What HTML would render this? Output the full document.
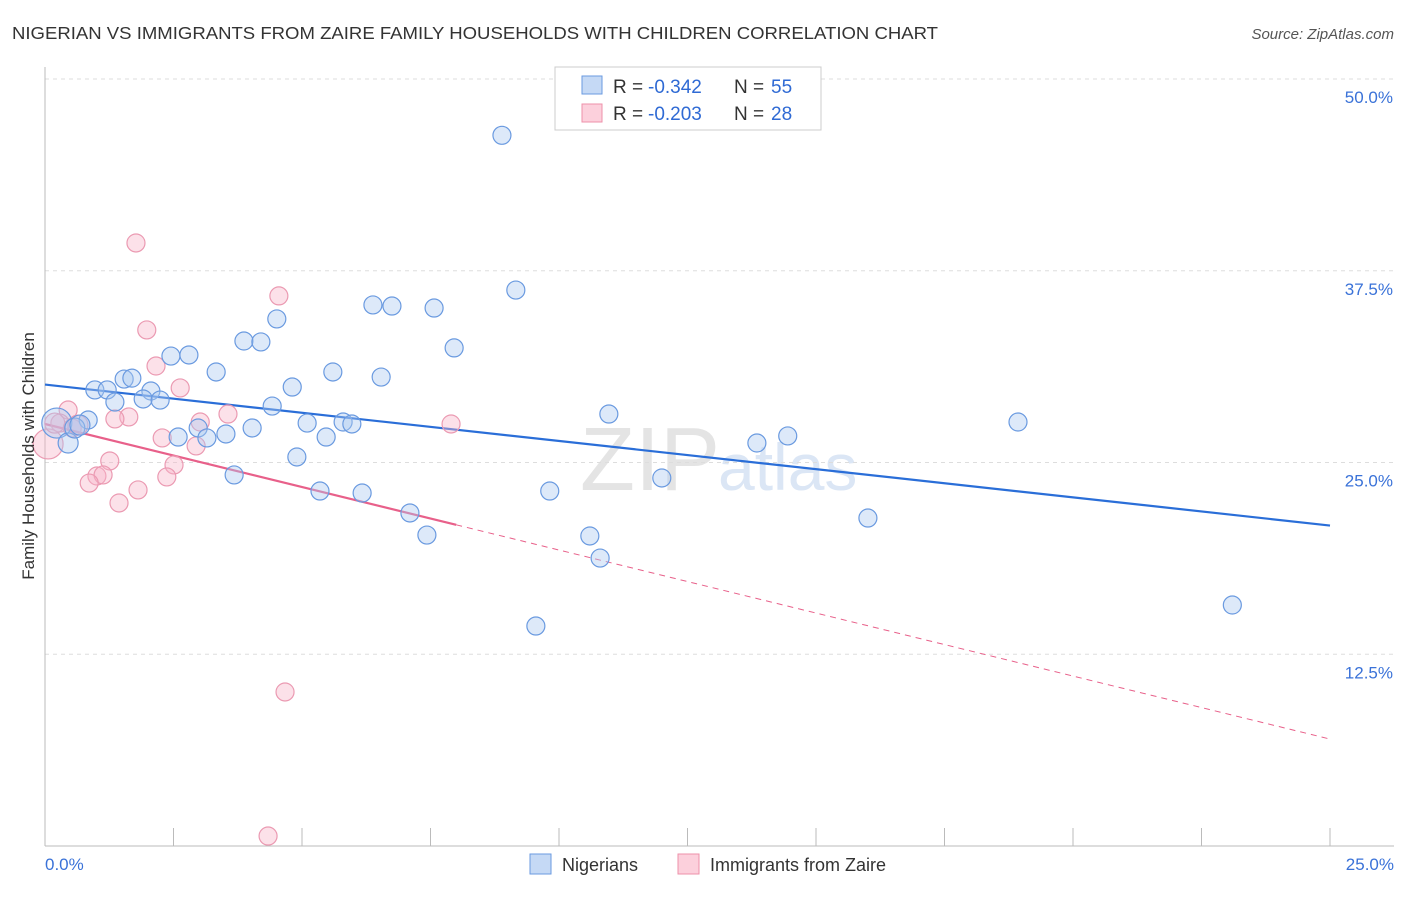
<!DOCTYPE html>
<html><head><meta charset="utf-8"><style>
body{margin:0;background:#fff;font-family:"Liberation Sans",sans-serif;}
svg text{font-family:"Liberation Sans",sans-serif;}
</style></head><body>
<svg id="chart" width="1406" height="892">
<text x="12" y="39" font-size="17.5" fill="#333" textLength="926" lengthAdjust="spacingAndGlyphs">NIGERIAN VS IMMIGRANTS FROM ZAIRE FAMILY HOUSEHOLDS WITH CHILDREN CORRELATION CHART</text>
<text x="1394" y="39" font-size="15" fill="#555" text-anchor="end" font-style="italic">Source: ZipAtlas.com</text>
<text x="720" y="490" font-size="90" fill="#e4e4e4" text-anchor="end" font-family="Liberation Serif">ZIP</text>
<text x="718" y="490" font-size="66" fill="#dbe6f5">atlas</text>
<g id="grid"></g>
<line x1="45" y1="67" x2="45" y2="846" stroke="#bbb"/>
<line x1="45" y1="846" x2="1394" y2="846" stroke="#bbb"/>
<g id="ticks"></g>
<g id="lines"></g>
<g id="points"></g>
<text transform="translate(34,456) rotate(-90)" font-size="17" fill="#333" text-anchor="middle">Family Households with Children</text>
<text x="45" y="870" font-size="17" fill="#3a72d8">0.0%</text>
<text x="1394" y="870" font-size="17" fill="#3a72d8" text-anchor="end">25.0%</text>
<g>
<rect x="555" y="67" width="266" height="63" fill="#fff" stroke="#ccc"/>
<rect x="582" y="76" width="20" height="18" fill="#c5d9f5" stroke="#6a9ae0"/>
<rect x="582" y="104" width="20" height="18" fill="#fcd0dc" stroke="#ee90aa"/>
<text x="613" y="93" font-size="19" fill="#333">R =</text>
<text x="648" y="93" font-size="19" fill="#2f6ad4">-0.342</text>
<text x="734" y="93" font-size="19" fill="#333">N =</text>
<text x="771" y="93" font-size="19" fill="#2f6ad4">55</text>
<text x="613" y="120" font-size="19" fill="#333">R =</text>
<text x="648" y="120" font-size="19" fill="#2f6ad4">-0.203</text>
<text x="734" y="120" font-size="19" fill="#333">N =</text>
<text x="771" y="120" font-size="19" fill="#2f6ad4">28</text>
</g>
<g>
<rect x="530" y="854" width="21" height="20" fill="#c5d9f5" stroke="#6a9ae0"/>
<text x="562" y="871" font-size="18" fill="#333">Nigerians</text>
<rect x="678" y="854" width="21" height="20" fill="#fcd0dc" stroke="#ee90aa"/>
<text x="710" y="871" font-size="18" fill="#333">Immigrants from Zaire</text>
</g>
</svg>
<script>
const yTicks=[12.5,25,37.5,50];
const xTicks=[0,2.5,5,7.5,10,12.5,15,17.5,20,22.5,25];
const nigX=[8.89,9.16,6.38,6.75,7.57,4.51,7.96,3.87,4.2,2.45,2.8,3.33,5.6,6.54,1.54,1.69,0.97,1.21,2.06,4.81,1.36,1.91,2.24,4.42,10.97,18.93,0.84,0.23,0.45,5.1,5.8,5.97,2.98,3.52,4.03,2.59,3.15,5.47,13.85,14.45,4.9,3.68,12.0,5.35,6.17,9.82,7.1,16.01,7.43,10.6,10.8,9.55,23.1,0.58,0.68];
const nigY=[46.33,36.24,35.27,35.2,35.07,34.36,32.47,32.92,32.86,31.94,32.01,30.9,30.9,30.57,30.44,30.5,29.73,29.73,29.66,29.92,28.94,29.14,29.07,28.68,28.16,27.64,27.77,27.57,26.27,27.57,27.64,27.51,27.25,26.86,27.25,26.66,26.6,26.66,26.27,26.73,25.36,24.19,23.99,23.14,23.01,23.14,21.71,21.38,20.27,20.21,18.77,14.34,15.71,27.25,27.44];
const nigR=[9,9,9,9,9,9,9,9,9,9,9,9,9,9,9,9,9,9,9,9,9,9,9,9,9,9,9,15,10,9,9,9,9,9,9,9,9,9,9,9,9,9,9,9,9,9,9,9,9,9,9,9,9,10,10];
const zaiX=[1.77,4.55,1.98,2.16,2.63,3.56,3.02,1.63,1.36,7.9,0.45,0.29,0.53,2.28,2.94,2.51,1.26,1.01,1.13,0.86,1.81,2.37,1.44,0.06,4.67,4.34,0.19,0.64];
const zaiY=[39.31,35.86,33.64,31.29,29.86,28.16,27.64,27.97,27.84,27.51,28.42,27.57,27.25,26.6,26.08,24.84,25.1,24.12,24.19,23.66,23.21,24.06,22.36,26.21,10.04,0.65,27.57,27.44];
const zaiR=[9,9,9,9,9,9,9,9,9,9,9,9,9,9,9,9,9,9,9,9,9,9,9,15,9,9,10,10];
const nigTrend=[30.08,20.89];
const zaiTrend=[27.51,6.97];
const zaiSolidEnd=8.0;
const NS='http://www.w3.org/2000/svg';
const X=v=>45+v/25*1285, Y=v=>846-v/50*767;
function mk(t,a,p){const e=document.createElementNS(NS,t);for(const k in a)e.setAttribute(k,a[k]);p.appendChild(e);return e;}
const grid=document.getElementById('grid'),ticks=document.getElementById('ticks'),lines=document.getElementById('lines'),pts=document.getElementById('points');
yTicks.forEach(t=>{
 const g=mk('line',{x1:45,x2:1394,y1:Y(t),y2:Y(t),stroke:'#ddd','stroke-dasharray':'4,4'},grid);
 
 
 const l=mk('text',{x:1393,y:Y(t)+24,'font-size':17,fill:'#3a72d8','text-anchor':'end'},ticks);
 l.textContent=t.toFixed(1)+'%';
 
 
});
xTicks.forEach(t=>{
 const k=mk('line',{x1:X(t),x2:X(t),y1:828,y2:846,stroke:'#bbb'},ticks);
 
 
});
function pl(a,b,x0,x1,col,w,dash,name){
 const s=(b-a)/25;
 const e=mk('line',{x1:X(x0),y1:Y(a+s*x0),x2:X(x1),y2:Y(a+s*x1),stroke:col,'stroke-width':w},lines);
 if(dash)e.setAttribute('stroke-dasharray',dash);
 
 
}
function dots(xs,ys,rs,fill,stroke,name){
 xs.forEach((x,i)=>{
  const c=mk('circle',{cx:X(x),cy:Y(ys[i]),r:rs[i],fill:fill,stroke:stroke,'stroke-width':1.2},pts);
  
  
 });
}
dots(zaiX,zaiY,zaiR,'rgba(248,180,200,0.4)','#eb9ab2','zaire-point');
dots(nigX,nigY,nigR,'rgba(170,200,240,0.4)','#6a9ae0','nigerian-point');
pl(nigTrend[0],nigTrend[1],0,25,'#2a6ed8',2.2,null,'nigerian-trendline');
pl(zaiTrend[0],zaiTrend[1],0,zaiSolidEnd,'#e8608a',2.2,null,'zaire-trendline');
pl(zaiTrend[0],zaiTrend[1],zaiSolidEnd,25,'#e8608a',1,'6,5','zaire-trendline-extension');
</script>
</body></html>
